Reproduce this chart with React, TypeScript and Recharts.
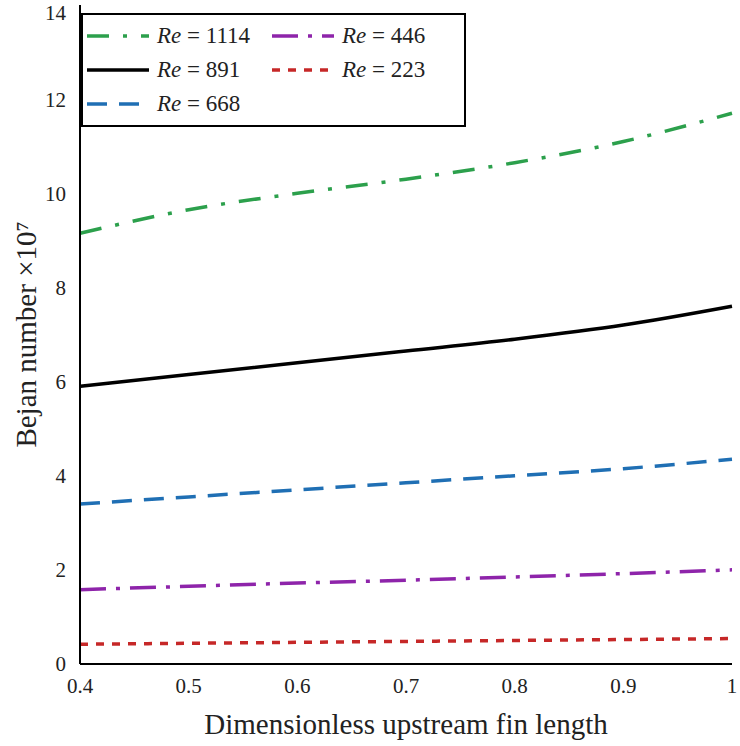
import React from "react";
import { LineChart, Line, XAxis, YAxis, CartesianGrid } from "recharts";

const xs = [0.4, 0.5, 0.6, 0.7, 0.8, 0.9, 1.0];
const re1114 = [9.15, 9.65, 10.0, 10.3, 10.65, 11.1, 11.7];
const re891 = [5.9, 6.15, 6.4, 6.65, 6.9, 7.2, 7.6];
const re668 = [3.4, 3.55, 3.7, 3.85, 4.0, 4.15, 4.35];
const re446 = [1.58, 1.65, 1.72, 1.78, 1.85, 1.92, 2.0];
const re223 = [0.42, 0.44, 0.46, 0.48, 0.5, 0.52, 0.54];
const xTicks = [0.4, 0.5, 0.6, 0.7, 0.8, 0.9, 1];
const yTicks = [0, 2, 4, 6, 8, 10, 12, 14];

const data = xs.map((x, i) => ({
  x,
  a: re1114[i],
  b: re891[i],
  c: re668[i],
  d: re446[i],
  e: re223[i],
}));

const font = "'Liberation Serif', 'DejaVu Serif', serif";

const series = [
  { key: "a", label: "1114", color: "#2ca04c", dash: "22 14 4 14" },
  { key: "b", label: "891", color: "#000000", dash: undefined },
  { key: "c", label: "668", color: "#1f6fb4", dash: "20 12" },
  { key: "d", label: "446", color: "#8e24aa", dash: "26 10 4 10" },
  { key: "e", label: "223", color: "#c62828", dash: "8 8" },
];

function Item({ s }: { s: (typeof series)[number] }) {
  return (
    <div style={{ display: "flex", alignItems: "center", height: 34 }}>
      <svg width={62} height={10}>
        <line x1={0} y1={5} x2={62} y2={5} stroke={s.color} strokeWidth={3.5} strokeDasharray={s.dash} />
      </svg>
      <span style={{ marginLeft: 8, fontSize: 23 }}>
        <i>Re</i> = {s.label}
      </span>
    </div>
  );
}

export default function App() {
  const byKey = (k: string) => series.find((s) => s.key === k)!;
  return (
    <div style={{ position: "absolute", left: 0, top: 0, width: 740, height: 746, background: "#fff", fontFamily: font }}>
      <LineChart width={740} height={746} data={data} margin={{ top: 5, right: 8, left: 0, bottom: 0 }}>
        <CartesianGrid horizontal={false} vertical={false} />
        <XAxis
          dataKey="x"
          type="number"
          domain={[0.4, 1]}
          ticks={xTicks}
          height={82}
          tickLine={false}
          axisLine={{ stroke: "#000", strokeWidth: 2 }}
          tick={{ fill: "#222", fontSize: 21, fontFamily: font }}
          tickMargin={8}
          label={{ value: "Dimensionless upstream fin length", position: "insideBottom", offset: 12, style: { fontSize: 29, fill: "#222", fontFamily: font } }}
        />
        <YAxis
          type="number"
          domain={[0, 14]}
          ticks={yTicks}
          width={80}
          tickLine={false}
          axisLine={{ stroke: "#000", strokeWidth: 2 }}
          tick={{ fill: "#222", fontSize: 21, fontFamily: font }}
          tickMargin={8}
          label={{ value: "Bejan number ×10⁷", angle: -90, position: "insideLeft", offset: 26, style: { fontSize: 29, fill: "#222", fontFamily: font, textAnchor: "middle" } }}
        />
        <XAxis xAxisId="top" orientation="top" dataKey="x" type="number" domain={[0.4, 1]} height={0} tick={false} tickLine={false} axisLine={{ stroke: "#000", strokeWidth: 2 }} />
        <YAxis yAxisId="right" orientation="right" domain={[0, 14]} width={0} tick={false} tickLine={false} axisLine={{ stroke: "#000", strokeWidth: 2 }} />
        {series.map((s) => (
          <Line key={s.key} dataKey={s.key} type="monotone" stroke={s.color} strokeWidth={3.5} strokeDasharray={s.dash} dot={false} isAnimationActive={false} />
        ))}
      </LineChart>
      <div
        style={{
          position: "absolute",
          left: 81,
          top: 13,
          width: 377,
          padding: "4px 0 4px 4px",
          border: "2.5px solid #000",
          background: "#fff",
          display: "grid",
          gridTemplateColumns: "185px 185px",
          color: "#222",
        }}
      >
        <Item s={byKey("a")} />
        <Item s={byKey("d")} />
        <Item s={byKey("b")} />
        <Item s={byKey("e")} />
        <Item s={byKey("c")} />
      </div>
    </div>
  );
}
